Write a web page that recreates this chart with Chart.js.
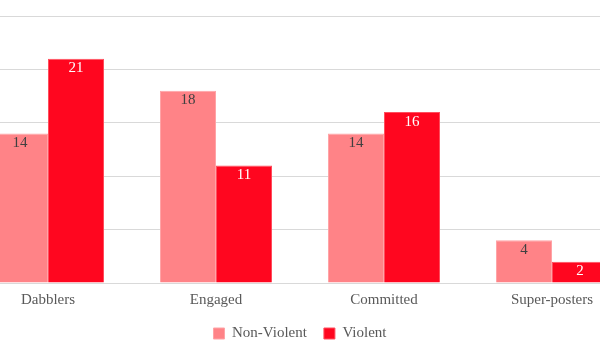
<!DOCTYPE html>
<html>
<head>
<meta charset="utf-8">
<script src="https://cdn.jsdelivr.net/npm/chart.js@4"></script>
<style>
  html, body { margin: 0; padding: 0; background: #fff; overflow: hidden; }
  body { width: 600px; height: 360px; position: relative; }
  #wrap { position: absolute; left: -36px; top: 0; width: 672px; height: 360px; }
</style>
</head>
<body>
<div id="wrap"><canvas id="chart"></canvas></div>
<script>
// Categories and series
const categories = ['Dabblers', 'Engaged', 'Committed', 'Super-posters'];
const nonViolent = [14, 18, 14, 4];
const violent = [21, 11, 16, 2];

const lightRed = '#FF8387';
const darkRed = '#FF061F';
const textGrey = '#595959';
const serif = '"Liberation Serif", "Times New Roman", serif';

// Draw the value label just inside the top of each bar
const barLabels = {
    id: 'barLabels',
    afterDatasetsDraw(chart) {
        const ctx = chart.ctx;
        ctx.save();
        ctx.font = '15px ' + serif;
        ctx.textAlign = 'center';
        ctx.textBaseline = 'top';
        chart.data.datasets.forEach((ds, i) => {
            const meta = chart.getDatasetMeta(i);
            meta.data.forEach((bar, j) => {
                ctx.fillStyle = i === 0 ? '#404040' : '#ffffff';
                ctx.fillText(String(ds.data[j]), bar.x, bar.y + 2);
            });
        });
        ctx.restore();
    }
};

new Chart(document.getElementById('chart'), {
    type: 'bar',
    data: {
        labels: categories,
        datasets: [
            {
                label: 'Non-Violent',
                data: nonViolent,
                backgroundColor: lightRed,
                borderColor: '#FFA3A6',
                borderWidth: 1
            },
            {
                label: 'Violent',
                data: violent,
                backgroundColor: darkRed,
                borderColor: '#FF4F5E',
                borderWidth: 1
            }
        ]
    },
    options: {
        responsive: true,
        maintainAspectRatio: false,
        animation: false,
        categoryPercentage: 0.667,
        barPercentage: 1.0,
        layout: { padding: { top: 16, left: 0, right: 0, bottom: 9 } },
        plugins: {
            legend: {
                position: 'bottom',
                labels: {
                    color: textGrey,
                    font: { family: serif, size: 15 },
                    boxWidth: 11,
                    boxHeight: 11,
                    padding: 17
                }
            },
            tooltip: { enabled: false }
        },
        scales: {
            y: {
                min: 0,
                max: 25,
                ticks: { stepSize: 5, display: false },
                grid: { color: '#D9D9D9', lineWidth: 1, drawTicks: false },
                border: { display: false },
                afterFit(scale) { scale.width = 0; }
            },
            x: {
                ticks: {
                    color: textGrey,
                    font: { family: serif, size: 15 },
                    padding: 0
                },
                grid: { display: false },
                border: { color: '#D9D9D9' }
            }
        }
    },
    plugins: [barLabels]
});
</script>
</body>
</html>
